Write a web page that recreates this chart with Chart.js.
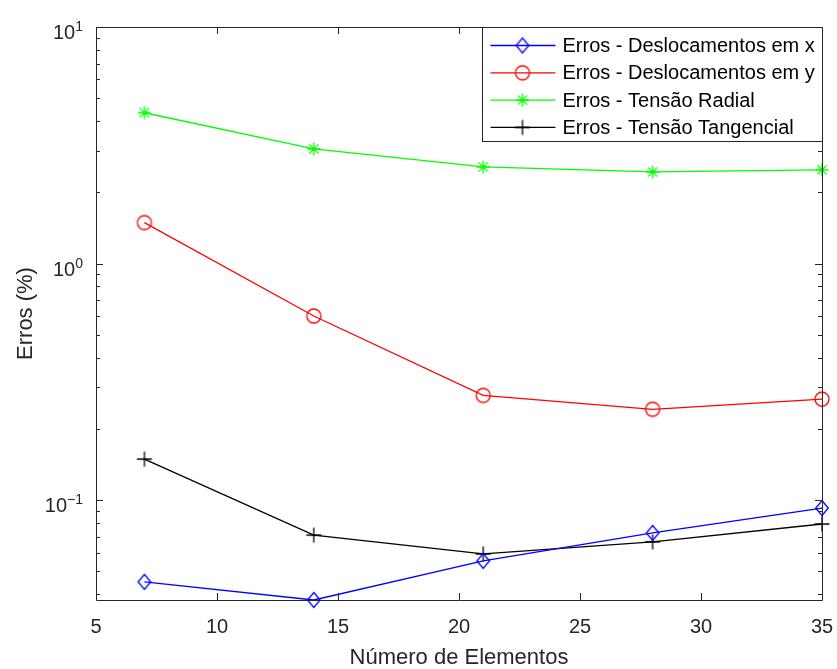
<!DOCTYPE html>
<html>
<head>
<meta charset="utf-8">
<script src="https://cdn.jsdelivr.net/npm/chart.js@4.4.0/dist/chart.umd.min.js"></script>
<style>
  html, body { margin: 0; padding: 0; background: #fff; }
  #wrap { width: 837px; height: 669px; }
</style>
</head>
<body>
<div id="wrap"><canvas id="grafico" width="837" height="669"></canvas></div>
<script>
// Dados
const xValores = [7, 14, 21, 28, 35];
const errosDeslocX = [0.0451, 0.0378, 0.0553, 0.0726, 0.0925];
const errosDeslocY = [1.49, 0.60, 0.277, 0.242, 0.267];
const errosTensaoRadial = [4.34, 3.05, 2.56, 2.44, 2.49];
const errosTensaoTangencial = [0.149, 0.0711, 0.0592, 0.0666, 0.0792];

const nomesSeries = [
    'Erros - Deslocamentos em x',
    'Erros - Deslocamentos em y',
    'Erros - Tensão Radial',
    'Erros - Tensão Tangencial'
];

// Ticks
const xTicks = [5, 10, 15, 20, 25, 30, 35];
const yTicksMaiores = [0.1, 1, 10];
const yTicksMenores = [0.04, 0.05, 0.06, 0.07, 0.08, 0.09,
                       0.2, 0.3, 0.4, 0.5, 0.6, 0.7, 0.8, 0.9,
                       2, 3, 4, 5, 6, 7, 8, 9];
const yMin = 0.0378, yMax = 10;

const FONTE = "'Liberation Sans', Arial, Helvetica, sans-serif";
const COR_EIXO = '#262626';
const ESPESSURA = 1.3;

// Marcadores estilo MATLAB desenhados num canvas pequeno
function criarMarcador(estilo, cor) {
    const r = 7.5, tam = 20;
    const c = document.createElement('canvas');
    c.width = tam; c.height = tam;
    const ctx = c.getContext('2d');
    const x = tam / 2, y = tam / 2;
    ctx.strokeStyle = cor;
    ctx.lineWidth = ESPESSURA;
    ctx.beginPath();
    if (estilo === 'diamante') {
        ctx.moveTo(x, y - r); ctx.lineTo(x + 6.3, y); ctx.lineTo(x, y + r); ctx.lineTo(x - 6.3, y); ctx.closePath();
    } else if (estilo === 'circulo') {
        ctx.arc(x, y, 7, 0, Math.PI * 2);
    } else if (estilo === 'asterisco') {
        const d = 4.6;
        ctx.moveTo(x - 6.5, y); ctx.lineTo(x + 6.5, y);
        ctx.moveTo(x, y - 6.5); ctx.lineTo(x, y + 6.5);
        ctx.moveTo(x - d, y - d); ctx.lineTo(x + d, y + d);
        ctx.moveTo(x - d, y + d); ctx.lineTo(x + d, y - d);
    } else {
        ctx.moveTo(x - r, y); ctx.lineTo(x + r, y);
        ctx.moveTo(x, y - r); ctx.lineTo(x, y + r);
    }
    ctx.stroke();
    return c;
}

function pontos(ys) {
    return xValores.map((x, i) => ({ x: x, y: ys[i] }));
}

function serie(label, ys, cor, estilo) {
    return {
        label: label,
        data: pontos(ys),
        borderColor: cor,
        backgroundColor: 'rgba(0,0,0,0)',
        borderWidth: ESPESSURA,
        pointStyle: criarMarcador(estilo, cor),
        pointRadius: 7,
        tension: 0,
        clip: false
    };
}

const datasets = [
    serie(nomesSeries[0], errosDeslocX, '#0000ff', 'diamante'),
    serie(nomesSeries[1], errosDeslocY, '#ff0000', 'circulo'),
    serie(nomesSeries[2], errosTensaoRadial, '#00ff00', 'asterisco'),
    serie(nomesSeries[3], errosTensaoTangencial, '#000000', 'cruz')
];

// Caixa dos eixos, ticks para dentro e rótulos 10^n
const estiloMatlab = {
    id: 'estiloMatlab',
    afterDatasetsDraw(chart) {
        const ctx = chart.ctx;
        const a = chart.chartArea;
        const sx = chart.scales.x, sy = chart.scales.y;
        ctx.save();
        ctx.strokeStyle = COR_EIXO;
        ctx.lineWidth = 1;
        ctx.beginPath();
        ctx.rect(Math.round(a.left) + 0.5, Math.round(a.top) + 0.5,
                 Math.round(a.right - a.left), Math.round(a.bottom - a.top));
        ctx.stroke();

        ctx.beginPath();
        xTicks.forEach(v => {
            const px = Math.round(sx.getPixelForValue(v)) + 0.5;
            ctx.moveTo(px, a.bottom); ctx.lineTo(px, a.bottom - 7);
            ctx.moveTo(px, a.top); ctx.lineTo(px, a.top + 7);
        });
        yTicksMaiores.concat(yTicksMenores).forEach(v => {
            const len = yTicksMaiores.includes(v) ? 7 : 4;
            const py = Math.round(sy.getPixelForValue(v)) + 0.5;
            ctx.moveTo(a.left, py); ctx.lineTo(a.left + len, py);
            ctx.moveTo(a.right, py); ctx.lineTo(a.right - len, py);
        });
        ctx.stroke();

        ctx.fillStyle = COR_EIXO;
        ctx.textBaseline = 'alphabetic';
        yTicksMaiores.forEach(v => {
            const py = sy.getPixelForValue(v);
            const exp = String(Math.round(Math.log10(v))).replace('-', '\u2212');
            ctx.font = '14px ' + FONTE;
            ctx.textAlign = 'right';
            const xExp = a.left - 13;
            ctx.fillText(exp, xExp, py + 4);
            const wExp = ctx.measureText(exp).width;
            ctx.font = '20px ' + FONTE;
            ctx.fillText('10', xExp - wExp, py + 12);
        });
        ctx.restore();
    },
    afterDraw(chart) {
        // Legenda dentro da área do gráfico
        const ctx = chart.ctx;
        const a = chart.chartArea;
        const larg = 340, alt = 114;
        const x0 = Math.round(a.right - larg) + 0.5, y0 = Math.round(a.top) + 0.5;
        ctx.save();
        ctx.fillStyle = '#fff';
        ctx.fillRect(x0, y0, larg, alt);
        ctx.strokeStyle = COR_EIXO;
        ctx.lineWidth = 1;
        ctx.strokeRect(x0, y0, larg, alt);
        chart.data.datasets.forEach((ds, i) => {
            const y = y0 + 18 + i * 27.3;
            ctx.strokeStyle = ds.borderColor;
            ctx.lineWidth = ESPESSURA;
            ctx.beginPath();
            ctx.moveTo(x0 + 8, y); ctx.lineTo(x0 + 73, y);
            ctx.stroke();
            const img = ds.pointStyle;
            ctx.drawImage(img, x0 + 40 - img.width / 2, y - img.height / 2);
            ctx.fillStyle = '#000';
            ctx.font = '20px ' + FONTE;
            ctx.textAlign = 'left';
            ctx.textBaseline = 'middle';
            ctx.fillText(ds.label, x0 + 80, y + 1);
        });
        ctx.restore();
    }
};

new Chart(document.getElementById('grafico'), {
    type: 'line',
    data: { datasets: datasets },
    options: {
        responsive: false,
        animation: false,
        layout: { padding: { left: 0, top: 27, right: 15, bottom: 0 } },
        plugins: {
            legend: { display: false },
            tooltip: { enabled: false }
        },
        scales: {
            x: {
                type: 'linear',
                min: 5,
                max: 35,
                afterBuildTicks: s => { s.ticks = xTicks.map(v => ({ value: v })); },
                afterFit: s => { s.height = 69; s.paddingLeft = 0; s.paddingRight = 0; },
                grid: { display: false, drawTicks: false },
                border: { display: false },
                ticks: {
                    color: COR_EIXO,
                    font: { family: FONTE, size: 20 },
                    padding: 15,
                    maxRotation: 0
                },
                title: {
                    display: true,
                    text: 'Número de Elementos',
                    color: COR_EIXO,
                    font: { family: FONTE, size: 22 },
                    padding: { top: 0, bottom: -2 }
                }
            },
            y: {
                type: 'logarithmic',
                min: yMin,
                max: yMax,
                afterBuildTicks: s => {
                    s.ticks = yTicksMaiores.concat(yTicksMenores).map(v => ({ value: v }));
                },
                afterFit: s => { s.width = 96; s.paddingTop = 0; s.paddingBottom = 0; },
                grid: { display: false, drawTicks: false },
                border: { display: false },
                ticks: { display: false },
                title: {
                    display: true,
                    text: 'Erros (%)',
                    color: COR_EIXO,
                    font: { family: FONTE, size: 22 },
                    padding: { top: 13, bottom: 0 }
                }
            }
        }
    },
    plugins: [estiloMatlab]
});
</script>
</body>
</html>
